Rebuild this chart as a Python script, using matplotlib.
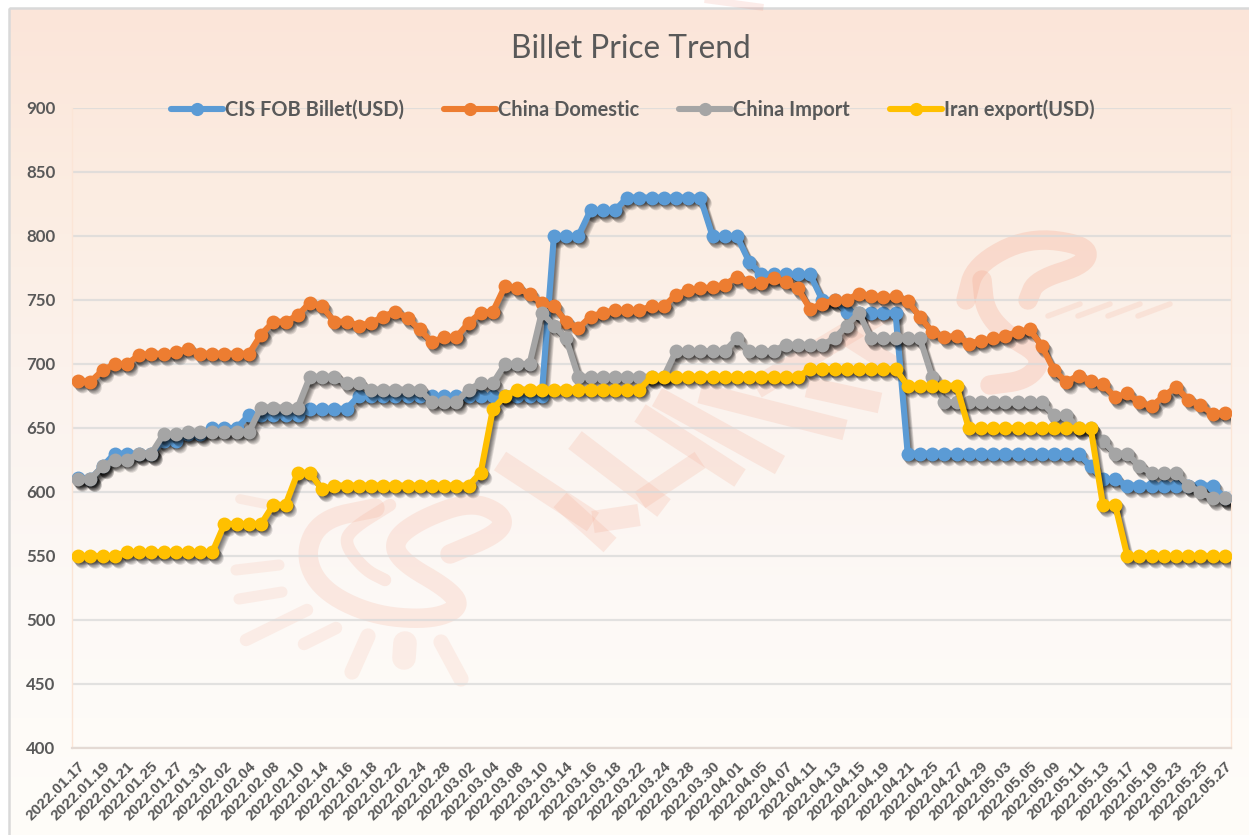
import numpy as np
import matplotlib
matplotlib.use('Agg')
import matplotlib.pyplot as plt
import matplotlib.patheffects as pe
from matplotlib.lines import Line2D
from matplotlib.patches import Rectangle

# tick labels, one for every second point
dates = ['2022.01.17', '2022.01.19', '2022.01.21', '2022.01.25', '2022.01.27', '2022.01.31',
         '2022.02.02', '2022.02.04', '2022.02.08', '2022.02.10', '2022.02.14', '2022.02.16',
         '2022.02.18', '2022.02.22', '2022.02.24', '2022.02.28', '2022.03.02', '2022.03.04',
         '2022.03.08', '2022.03.10', '2022.03.14', '2022.03.16', '2022.03.18', '2022.03.22',
         '2022.03.24', '2022.03.28', '2022.03.30', '2022.04.01', '2022.04.05', '2022.04.07',
         '2022.04.11', '2022.04.13', '2022.04.15', '2022.04.19', '2022.04.21', '2022.04.25',
         '2022.04.27', '2022.04.29', '2022.05.03', '2022.05.05', '2022.05.09', '2022.05.11',
         '2022.05.13', '2022.05.17', '2022.05.19', '2022.05.23', '2022.05.25', '2022.05.27']

cis = [611, 610, 620, 630, 630, 630, 630, 640, 640, 645, 645, 650, 650, 650, 660, 660,
       660, 660, 660, 665, 665, 665, 665, 675, 675, 675, 675, 675, 675, 675, 675, 675,
       675, 675, 675, 675, 675, 675, 675, 800, 800, 800, 820, 820, 820, 830, 830, 830,
       830, 830, 830, 830, 800, 800, 800, 780, 770, 770, 770, 770, 770, 750, 750, 741,
       740, 740, 740, 740, 630, 630, 630, 630, 630, 630, 630, 630, 630, 630, 630, 630,
       630, 630, 630, 620, 610, 610, 605, 605, 605, 605, 605, 605, 605, 605, 595]

china_dom = [687, 686, 695, 700, 700, 707, 708, 708, 709, 712, 708, 708, 708, 708, 708, 723,
             733, 733, 738, 748, 745, 733, 733, 730, 732, 737, 741, 736, 727, 717, 721, 721,
             732, 740, 741, 761, 759, 755, 748, 745, 733, 728, 737, 740, 742, 742, 742, 745,
             745, 754, 758, 759, 760, 762, 768, 764, 763, 767, 764, 759, 743, 747, 750, 750,
             755, 753, 752, 753, 749, 737, 725, 721, 722, 716, 718, 720, 722, 725, 727, 714,
             695, 686, 691, 687, 684, 674, 677, 670, 667, 675, 682, 672, 668, 661, 662]

china_imp = [610, 610, 620, 625, 625, 630, 630, 645, 645, 647, 647, 647, 647, 647, 647, 666,
             666, 666, 666, 690, 690, 690, 685, 685, 680, 680, 680, 680, 680, 670, 670, 670,
             680, 685, 685, 700, 700, 700, 740, 730, 720, 690, 690, 690, 690, 690, 690, 690,
             690, 710, 710, 710, 710, 710, 720, 710, 710, 710, 715, 715, 715, 715, 720, 730,
             740, 720, 720, 720, 720, 720, 690, 670, 670, 670, 670, 670, 670, 670, 670, 670,
             660, 660, 650, 650, 640, 630, 630, 620, 615, 615, 615, 605, 600, 595, 595]

iran = [550, 550, 550, 550, 553, 553, 553, 553, 553, 553, 553, 553, 575, 575, 575, 575,
        590, 590, 615, 615, 602, 605, 605, 605, 605, 605, 605, 605, 605, 605, 605, 605,
        605, 615, 665, 675, 680, 680, 680, 680, 680, 680, 680, 680, 680, 680, 680, 690,
        690, 690, 690, 690, 690, 690, 690, 690, 690, 690, 690, 690, 696, 696, 696, 696,
        696, 696, 696, 696, 683, 683, 683, 683, 683, 650, 650, 650, 650, 650, 650, 650,
        650, 650, 650, 650, 590, 590, 550, 550, 550, 550, 550, 550, 550, 550, 550]

series = [('CIS FOB Billet(USD)', cis, '#5B9BD5'),
          ('China Domestic', china_dom, '#ED7D31'),
          ('China Import', china_imp, '#A5A5A5'),
          ('Iran export(USD)', iran, '#FFC000')]

yticks = [400, 450, 500, 550, 600, 650, 700, 750, 800, 850, 900]

W, H = 1249, 835
fig = plt.figure(figsize=(W / 100, H / 100), dpi=100, facecolor='white')

# background layer in pixel coords: gradient, frame and the faint logo
bg = fig.add_axes([0, 0, 1, 1], zorder=0)
grad_y = [8, 200, 400, 600, 835]
grad_rgb = np.array([[252, 229, 217], [251, 237, 226], [251, 243, 238], [253, 249, 246], [255, 253, 249]]) / 255
yy = np.arange(8, H)
img = np.stack([np.interp(yy, grad_y, grad_rgb[:, k]) for k in range(3)], axis=1)[:, None, :]
bg.imshow(img, extent=[9, W, H, 8], aspect='auto', zorder=0)
bg.set_xlim(0, W)
bg.set_ylim(H, 0)
bg.axis('off')
bg.add_patch(Rectangle((9, 8), W, H, fill=False, ec='#D9D9D9', lw=1.8, zorder=1))


def smooth(pts, n=3):
    p = np.array(pts, dtype=float)
    for _ in range(n):
        q = p[:-1] * 0.75 + p[1:] * 0.25
        r = p[:-1] * 0.25 + p[1:] * 0.75
        p = np.vstack([p[0], np.column_stack([q, r]).reshape(-1, 2), p[-1]])
    return p


wm = '#F4A58C'
# swirl strokes, (points, width in pt, alpha)
swirls = [([(375, 508), (321, 519), (304, 554), (321, 590), (371, 615), (429, 620), (461, 608), (450, 590),
            (400, 561), (393, 540), (421, 519), (471, 501), (504, 515), (500, 533), (450, 554)], 14, 0.2),
          ([(390, 505), (350, 530), (345, 545), (365, 570), (385, 580)], 9, 0.2),
          ([(966, 300), (975, 265), (1028, 237), (1087, 245), (1087, 264), (1036, 280), (1028, 300)], 14, 0.28),
          ([(982, 280), (985, 310), (1005, 334), (1044, 357), (1028, 380), (990, 385)], 14, 0.28)]
for pts, lw, a in swirls:
    s = smooth(pts)
    bg.plot(s[:, 0], s[:, 1], color=wm, lw=lw, alpha=a, solid_capstyle='round', solid_joinstyle='round', zorder=2)

# sun rays
rays = [(239, 599, 282, 592, 8), (246, 640, 307, 610, 9), (304, 644, 336, 628, 9), (352, 672, 368, 636, 11),
        (405, 643, 404, 658, 17), (441, 642, 461, 679, 11), (236, 570, 279, 565, 8), (240, 499, 275, 506, 7)]
for x0, y0, x1, y1, lw in rays:
    bg.plot([x0, x1], [y0, y1], color=wm, lw=lw, alpha=0.15, solid_capstyle='round', zorder=2)

# slanted letter strokes of the logo
bars = [(500, 461, 593, 522, 16), (593, 522, 639, 515, 16), (575, 440, 664, 508, 16), (640, 413, 740, 478, 15),
        (657, 397, 780, 465, 15), (700, 393, 845, 430, 15), (807, 387, 880, 403, 15), (756, 388, 904, 299, 16),
        (640, 500, 700, 460, 14), (610, 545, 560, 500, 14), (845, 335, 900, 370, 14)]
for x0, y0, x1, y1, lw in bars:
    bg.plot([x0, x1], [y0, y1], color=wm, lw=lw, alpha=0.2, solid_capstyle='butt', zorder=2)

# tail hatching next to the upper swirl
for x0 in [1048, 1078, 1108, 1138]:
    bg.plot([x0, x0 + 32], [316, 304], color=wm, lw=4, alpha=0.18, solid_capstyle='round', zorder=2)

# top margin logo bit
bg.plot([708, 760], [0, 7], color='#F08070', lw=5, alpha=0.15, zorder=2)

# plot area 72..1231 x 108..748 px
ax = fig.add_axes([72 / W, 1 - 748 / H, (1231 - 72) / W, 640 / H], zorder=2)
ax.patch.set_alpha(0)
x = np.arange(len(cis))

shadow_off = [(0.8, -1.0), (1.3, -1.7), (1.8, -2.4), (2.3, -3.0), (2.8, -3.6), (3.3, -4.2)]
line_sh = [pe.SimpleLineShadow(offset=o, shadow_color='k', alpha=0.11) for o in shadow_off]
mark_sh = [pe.SimplePatchShadow(offset=o, shadow_rgbFace='k', alpha=0.11) for o in shadow_off]

z = 3
for name, vals, col in series:
    # shadow first so it only falls on earlier series
    ax.plot(x, vals, color=col, lw=4.4, zorder=z, path_effects=line_sh)
    ax.plot(x, vals, ls='none', marker='o', ms=10, mec='none', color=col, zorder=z + 0.1, path_effects=mark_sh)
    ax.plot(x, vals, color=col, lw=4.4, marker='o', ms=10, mec='none', zorder=z + 0.2, solid_joinstyle='round')
    z += 1

ax.set_xlim(-0.5, 94.5)
ax.set_ylim(400, 900)
ax.set_yticks(yticks)
ax.set_xticks(x[::2])
ax.set_xticklabels(dates, rotation=45, ha='right', va='top', rotation_mode='anchor',
                   fontsize=11, fontweight='bold', family='Liberation Sans', color='#595959')
for lab in ax.get_yticklabels():
    lab.set_fontfamily('Lato')
    lab.set_fontweight('bold')
    lab.set_fontsize(12.2)
    lab.set_color('#595959')
ax.tick_params(axis='both', length=0)
ax.tick_params(axis='x', pad=8)
ax.tick_params(axis='y', pad=12)
ax.grid(axis='y', color='#D9D9D9', lw=1.6, alpha=0.75)
ax.set_axisbelow(True)
for sp in ['right', 'left']:
    ax.spines[sp].set_color('#FBE5D6')
    ax.spines[sp].set_linewidth(1)
ax.spines['top'].set_visible(False)
ax.spines['bottom'].set_color('#E4DAD4')
ax.spines['bottom'].set_linewidth(1.6)

handles = [Line2D([0], [0], color=c, lw=4.4, marker='o', ms=9.5, mec='none', solid_capstyle='round') for _, _, c in series]
leg = fig.legend(handles, [s[0] for s in series], loc='center', bbox_to_anchor=(633 / W, 1 - 109.5 / H), ncols=4,
                 frameon=False, handlelength=2.6, handletextpad=0.1, columnspacing=2.0,
                 prop={'family': 'Lato', 'weight': 'bold', 'size': 14.4}, labelcolor='#595959')
leg.set_zorder(20)

fig.text(631 / W, 1 - 49 / H, 'Billet Price Trend', ha='center', va='center', fontsize=22.8,
         family='Lato', color='#595959', zorder=20)

fig.savefig('out.png', dpi=100, facecolor='white')
